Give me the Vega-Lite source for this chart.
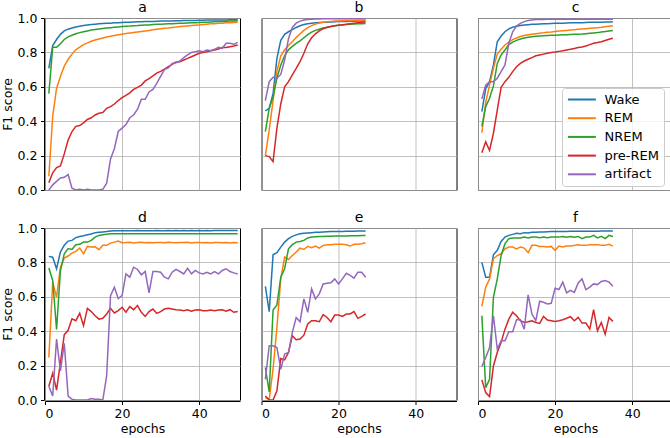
{
"$schema": "https://vega.github.io/schema/vega-lite/v6.json",
"padding": {"left": 1, "top": 0, "right": 0, "bottom": 0},
"datasets": {"rows": [
{"p":"a","e":1,"Wake":0.707,"REM":0.08,"NREM":0.56,"pre-REM":0.043,"artifact":0},
{"p":"a","e":2,"Wake":0.84,"REM":0.43,"NREM":0.83,"pre-REM":0.10,"artifact":0.03},
{"p":"a","e":3,"Wake":0.875,"REM":0.59,"NREM":0.83,"pre-REM":0.13,"artifact":0.05},
{"p":"a","e":4,"Wake":0.905,"REM":0.66,"NREM":0.85,"pre-REM":0.14,"artifact":0.07},
{"p":"a","e":5,"Wake":0.925,"REM":0.72,"NREM":0.875,"pre-REM":0.21,"artifact":0.074},
{"p":"a","e":6,"Wake":0.935,"REM":0.76,"NREM":0.89,"pre-REM":0.29,"artifact":0.09},
{"p":"a","e":7,"Wake":0.942,"REM":0.79,"NREM":0.90,"pre-REM":0.34,"artifact":0.01},
{"p":"a","e":8,"Wake":0.948,"REM":0.815,"NREM":0.908,"pre-REM":0.37,"artifact":0},
{"p":"a","e":9,"Wake":0.952,"REM":0.83,"NREM":0.915,"pre-REM":0.375,"artifact":0.004},
{"p":"a","e":10,"Wake":0.956,"REM":0.845,"NREM":0.92,"pre-REM":0.39,"artifact":0},
{"p":"a","e":11,"Wake":0.959,"REM":0.855,"NREM":0.925,"pre-REM":0.41,"artifact":0.004},
{"p":"a","e":12,"Wake":0.962,"REM":0.865,"NREM":0.93,"pre-REM":0.42,"artifact":0},
{"p":"a","e":13,"Wake":0.964,"REM":0.872,"NREM":0.933,"pre-REM":0.436,"artifact":0},
{"p":"a","e":14,"Wake":0.966,"REM":0.878,"NREM":0.936,"pre-REM":0.446,"artifact":0},
{"p":"a","e":15,"Wake":0.968,"REM":0.884,"NREM":0.939,"pre-REM":0.45,"artifact":0.004},
{"p":"a","e":16,"Wake":0.969,"REM":0.889,"NREM":0.942,"pre-REM":0.475,"artifact":0.04},
{"p":"a","e":17,"Wake":0.970,"REM":0.894,"NREM":0.944,"pre-REM":0.485,"artifact":0.18},
{"p":"a","e":18,"Wake":0.972,"REM":0.898,"NREM":0.946,"pre-REM":0.50,"artifact":0.24},
{"p":"a","e":19,"Wake":0.973,"REM":0.902,"NREM":0.948,"pre-REM":0.52,"artifact":0.34},
{"p":"a","e":20,"Wake":0.974,"REM":0.906,"NREM":0.950,"pre-REM":0.537,"artifact":0.36},
{"p":"a","e":21,"Wake":0.975,"REM":0.91,"NREM":0.952,"pre-REM":0.55,"artifact":0.38},
{"p":"a","e":22,"Wake":0.976,"REM":0.913,"NREM":0.953,"pre-REM":0.565,"artifact":0.42},
{"p":"a","e":23,"Wake":0.977,"REM":0.916,"NREM":0.955,"pre-REM":0.585,"artifact":0.436},
{"p":"a","e":24,"Wake":0.978,"REM":0.919,"NREM":0.956,"pre-REM":0.597,"artifact":0.47},
{"p":"a","e":25,"Wake":0.978,"REM":0.922,"NREM":0.958,"pre-REM":0.61,"artifact":0.527},
{"p":"a","e":26,"Wake":0.979,"REM":0.925,"NREM":0.959,"pre-REM":0.634,"artifact":0.527},
{"p":"a","e":27,"Wake":0.980,"REM":0.928,"NREM":0.960,"pre-REM":0.647,"artifact":0.57},
{"p":"a","e":28,"Wake":0.980,"REM":0.931,"NREM":0.962,"pre-REM":0.663,"artifact":0.585},
{"p":"a","e":29,"Wake":0.981,"REM":0.934,"NREM":0.963,"pre-REM":0.68,"artifact":0.62},
{"p":"a","e":30,"Wake":0.982,"REM":0.937,"NREM":0.964,"pre-REM":0.69,"artifact":0.66},
{"p":"a","e":31,"Wake":0.982,"REM":0.940,"NREM":0.965,"pre-REM":0.703,"artifact":0.70},
{"p":"a","e":32,"Wake":0.983,"REM":0.942,"NREM":0.966,"pre-REM":0.717,"artifact":0.71},
{"p":"a","e":33,"Wake":0.983,"REM":0.945,"NREM":0.967,"pre-REM":0.73,"artifact":0.736},
{"p":"a","e":34,"Wake":0.984,"REM":0.947,"NREM":0.968,"pre-REM":0.744,"artifact":0.74},
{"p":"a","e":35,"Wake":0.984,"REM":0.950,"NREM":0.969,"pre-REM":0.746,"artifact":0.75},
{"p":"a","e":36,"Wake":0.985,"REM":0.952,"NREM":0.970,"pre-REM":0.756,"artifact":0.77},
{"p":"a","e":37,"Wake":0.985,"REM":0.954,"NREM":0.971,"pre-REM":0.765,"artifact":0.785},
{"p":"a","e":38,"Wake":0.986,"REM":0.956,"NREM":0.972,"pre-REM":0.775,"artifact":0.80},
{"p":"a","e":39,"Wake":0.986,"REM":0.958,"NREM":0.973,"pre-REM":0.785,"artifact":0.804},
{"p":"a","e":40,"Wake":0.987,"REM":0.960,"NREM":0.974,"pre-REM":0.795,"artifact":0.81},
{"p":"a","e":41,"Wake":0.987,"REM":0.962,"NREM":0.975,"pre-REM":0.80,"artifact":0.804},
{"p":"a","e":42,"Wake":0.988,"REM":0.964,"NREM":0.976,"pre-REM":0.804,"artifact":0.814},
{"p":"a","e":43,"Wake":0.988,"REM":0.966,"NREM":0.977,"pre-REM":0.81,"artifact":0.81},
{"p":"a","e":44,"Wake":0.988,"REM":0.967,"NREM":0.978,"pre-REM":0.814,"artifact":0.818},
{"p":"a","e":45,"Wake":0.989,"REM":0.969,"NREM":0.979,"pre-REM":0.82,"artifact":0.83},
{"p":"a","e":46,"Wake":0.989,"REM":0.970,"NREM":0.980,"pre-REM":0.828,"artifact":0.824},
{"p":"a","e":47,"Wake":0.989,"REM":0.972,"NREM":0.981,"pre-REM":0.828,"artifact":0.853},
{"p":"a","e":48,"Wake":0.990,"REM":0.973,"NREM":0.982,"pre-REM":0.833,"artifact":0.853},
{"p":"a","e":49,"Wake":0.990,"REM":0.974,"NREM":0.983,"pre-REM":0.837,"artifact":0.847},
{"p":"a","e":50,"Wake":0.990,"REM":0.975,"NREM":0.984,"pre-REM":0.843,"artifact":0.858},
{"p":"b","e":1,"Wake":0.46,"REM":0.20,"NREM":0.34,"pre-REM":0.20,"artifact":0.52},
{"p":"b","e":2,"Wake":0.475,"REM":0.35,"NREM":0.475,"pre-REM":0.194,"artifact":0.63},
{"p":"b","e":3,"Wake":0.56,"REM":0.52,"NREM":0.54,"pre-REM":0.165,"artifact":0.655},
{"p":"b","e":4,"Wake":0.765,"REM":0.69,"NREM":0.65,"pre-REM":0.36,"artifact":0.65},
{"p":"b","e":5,"Wake":0.87,"REM":0.78,"NREM":0.727,"pre-REM":0.50,"artifact":0.672},
{"p":"b","e":6,"Wake":0.905,"REM":0.815,"NREM":0.78,"pre-REM":0.60,"artifact":0.756},
{"p":"b","e":7,"Wake":0.92,"REM":0.84,"NREM":0.815,"pre-REM":0.63,"artifact":0.88},
{"p":"b","e":8,"Wake":0.932,"REM":0.862,"NREM":0.835,"pre-REM":0.67,"artifact":0.945},
{"p":"b","e":9,"Wake":0.945,"REM":0.886,"NREM":0.852,"pre-REM":0.707,"artifact":0.97},
{"p":"b","e":10,"Wake":0.955,"REM":0.908,"NREM":0.867,"pre-REM":0.746,"artifact":0.982},
{"p":"b","e":11,"Wake":0.962,"REM":0.928,"NREM":0.885,"pre-REM":0.795,"artifact":0.988},
{"p":"b","e":12,"Wake":0.967,"REM":0.944,"NREM":0.903,"pre-REM":0.85,"artifact":0.991},
{"p":"b","e":13,"Wake":0.970,"REM":0.956,"NREM":0.918,"pre-REM":0.885,"artifact":0.993},
{"p":"b","e":14,"Wake":0.972,"REM":0.965,"NREM":0.928,"pre-REM":0.908,"artifact":0.994},
{"p":"b","e":15,"Wake":0.974,"REM":0.971,"NREM":0.935,"pre-REM":0.925,"artifact":0.994},
{"p":"b","e":16,"Wake":0.975,"REM":0.975,"NREM":0.942,"pre-REM":0.938,"artifact":0.995},
{"p":"b","e":17,"Wake":0.976,"REM":0.978,"NREM":0.947,"pre-REM":0.945,"artifact":0.995},
{"p":"b","e":18,"Wake":0.977,"REM":0.980,"NREM":0.951,"pre-REM":0.951,"artifact":0.995},
{"p":"b","e":19,"Wake":0.978,"REM":0.982,"NREM":0.955,"pre-REM":0.955,"artifact":0.995},
{"p":"b","e":20,"Wake":0.979,"REM":0.983,"NREM":0.958,"pre-REM":0.958,"artifact":0.995},
{"p":"b","e":21,"Wake":0.980,"REM":0.984,"NREM":0.960,"pre-REM":0.961,"artifact":0.995},
{"p":"b","e":22,"Wake":0.980,"REM":0.985,"NREM":0.962,"pre-REM":0.963,"artifact":0.995},
{"p":"b","e":23,"Wake":0.981,"REM":0.986,"NREM":0.964,"pre-REM":0.966,"artifact":0.995},
{"p":"b","e":24,"Wake":0.981,"REM":0.986,"NREM":0.965,"pre-REM":0.969,"artifact":0.995},
{"p":"b","e":25,"Wake":0.982,"REM":0.987,"NREM":0.966,"pre-REM":0.972,"artifact":0.995},
{"p":"b","e":26,"Wake":0.982,"REM":0.987,"NREM":0.967,"pre-REM":0.975,"artifact":0.995},
{"p":"b","e":27,"Wake":0.983,"REM":0.988,"NREM":0.968,"pre-REM":0.977,"artifact":0.995},
{"p":"c","e":1,"Wake":0.455,"REM":0.333,"NREM":0.37,"pre-REM":0.217,"artifact":0.53},
{"p":"c","e":2,"Wake":0.59,"REM":0.51,"NREM":0.485,"pre-REM":0.28,"artifact":0.61},
{"p":"c","e":3,"Wake":0.63,"REM":0.61,"NREM":0.533,"pre-REM":0.23,"artifact":0.63},
{"p":"c","e":4,"Wake":0.727,"REM":0.707,"NREM":0.605,"pre-REM":0.33,"artifact":0.63},
{"p":"c","e":5,"Wake":0.862,"REM":0.79,"NREM":0.736,"pre-REM":0.465,"artifact":0.65},
{"p":"c","e":6,"Wake":0.895,"REM":0.818,"NREM":0.785,"pre-REM":0.597,"artifact":0.688},
{"p":"c","e":7,"Wake":0.92,"REM":0.843,"NREM":0.814,"pre-REM":0.63,"artifact":0.727},
{"p":"c","e":8,"Wake":0.937,"REM":0.86,"NREM":0.845,"pre-REM":0.655,"artifact":0.853},
{"p":"c","e":9,"Wake":0.946,"REM":0.874,"NREM":0.86,"pre-REM":0.688,"artifact":0.92},
{"p":"c","e":10,"Wake":0.952,"REM":0.884,"NREM":0.87,"pre-REM":0.717,"artifact":0.953},
{"p":"c","e":11,"Wake":0.956,"REM":0.892,"NREM":0.878,"pre-REM":0.736,"artifact":0.969},
{"p":"c","e":12,"Wake":0.959,"REM":0.898,"NREM":0.884,"pre-REM":0.75,"artifact":0.979},
{"p":"c","e":13,"Wake":0.961,"REM":0.902,"NREM":0.888,"pre-REM":0.76,"artifact":0.985},
{"p":"c","e":14,"Wake":0.963,"REM":0.906,"NREM":0.891,"pre-REM":0.77,"artifact":0.989},
{"p":"c","e":15,"Wake":0.964,"REM":0.909,"NREM":0.894,"pre-REM":0.78,"artifact":0.991},
{"p":"c","e":16,"Wake":0.965,"REM":0.912,"NREM":0.896,"pre-REM":0.785,"artifact":0.992},
{"p":"c","e":17,"Wake":0.966,"REM":0.914,"NREM":0.897,"pre-REM":0.79,"artifact":0.992},
{"p":"c","e":18,"Wake":0.967,"REM":0.917,"NREM":0.898,"pre-REM":0.795,"artifact":0.993},
{"p":"c","e":19,"Wake":0.968,"REM":0.919,"NREM":0.899,"pre-REM":0.80,"artifact":0.993},
{"p":"c","e":20,"Wake":0.969,"REM":0.922,"NREM":0.90,"pre-REM":0.802,"artifact":0.993},
{"p":"c","e":21,"Wake":0.970,"REM":0.924,"NREM":0.901,"pre-REM":0.806,"artifact":0.993},
{"p":"c","e":22,"Wake":0.970,"REM":0.926,"NREM":0.902,"pre-REM":0.81,"artifact":0.993},
{"p":"c","e":23,"Wake":0.971,"REM":0.928,"NREM":0.903,"pre-REM":0.814,"artifact":0.993},
{"p":"c","e":24,"Wake":0.972,"REM":0.930,"NREM":0.904,"pre-REM":0.818,"artifact":0.993},
{"p":"c","e":25,"Wake":0.972,"REM":0.932,"NREM":0.905,"pre-REM":0.823,"artifact":0.993},
{"p":"c","e":26,"Wake":0.973,"REM":0.934,"NREM":0.906,"pre-REM":0.828,"artifact":0.993},
{"p":"c","e":27,"Wake":0.973,"REM":0.936,"NREM":0.907,"pre-REM":0.832,"artifact":0.993},
{"p":"c","e":28,"Wake":0.974,"REM":0.938,"NREM":0.909,"pre-REM":0.837,"artifact":0.993},
{"p":"c","e":29,"Wake":0.975,"REM":0.940,"NREM":0.911,"pre-REM":0.845,"artifact":0.993},
{"p":"c","e":30,"Wake":0.975,"REM":0.942,"NREM":0.913,"pre-REM":0.853,"artifact":0.993},
{"p":"c","e":31,"Wake":0.976,"REM":0.944,"NREM":0.915,"pre-REM":0.857,"artifact":0.993},
{"p":"c","e":32,"Wake":0.976,"REM":0.946,"NREM":0.918,"pre-REM":0.862,"artifact":0.993},
{"p":"c","e":33,"Wake":0.977,"REM":0.949,"NREM":0.921,"pre-REM":0.869,"artifact":0.993},
{"p":"c","e":34,"Wake":0.977,"REM":0.952,"NREM":0.925,"pre-REM":0.876,"artifact":0.993},
{"p":"c","e":35,"Wake":0.978,"REM":0.955,"NREM":0.928,"pre-REM":0.882,"artifact":0.993},
{"p":"d","e":1,"Wake":0.835,"REM":0.247,"NREM":0.767,"pre-REM":0.08,"artifact":0.08},
{"p":"d","e":2,"Wake":0.83,"REM":0.685,"NREM":0.695,"pre-REM":0.156,"artifact":0.023},
{"p":"d","e":3,"Wake":0.763,"REM":0.597,"NREM":0.41,"pre-REM":0.058,"artifact":0.354},
{"p":"d","e":4,"Wake":0.86,"REM":0.772,"NREM":0.75,"pre-REM":0.218,"artifact":0.169},
{"p":"d","e":5,"Wake":0.90,"REM":0.825,"NREM":0.85,"pre-REM":0.38,"artifact":0.33},
{"p":"d","e":6,"Wake":0.924,"REM":0.837,"NREM":0.88,"pre-REM":0.405,"artifact":0.023},
{"p":"d","e":7,"Wake":0.928,"REM":0.854,"NREM":0.875,"pre-REM":0.472,"artifact":0.004},
{"p":"d","e":8,"Wake":0.944,"REM":0.864,"NREM":0.903,"pre-REM":0.461,"artifact":0},
{"p":"d","e":9,"Wake":0.951,"REM":0.883,"NREM":0.905,"pre-REM":0.504,"artifact":0},
{"p":"d","e":10,"Wake":0.955,"REM":0.85,"NREM":0.918,"pre-REM":0.432,"artifact":0},
{"p":"d","e":11,"Wake":0.961,"REM":0.893,"NREM":0.918,"pre-REM":0.533,"artifact":0},
{"p":"d","e":12,"Wake":0.965,"REM":0.889,"NREM":0.928,"pre-REM":0.514,"artifact":0.008},
{"p":"d","e":13,"Wake":0.973,"REM":0.891,"NREM":0.947,"pre-REM":0.49,"artifact":0.004},
{"p":"d","e":14,"Wake":0.975,"REM":0.874,"NREM":0.957,"pre-REM":0.47,"artifact":0.004},
{"p":"d","e":15,"Wake":0.977,"REM":0.899,"NREM":0.961,"pre-REM":0.475,"artifact":0},
{"p":"d","e":16,"Wake":0.979,"REM":0.899,"NREM":0.964,"pre-REM":0.50,"artifact":0.14},
{"p":"d","e":17,"Wake":0.982,"REM":0.912,"NREM":0.967,"pre-REM":0.533,"artifact":0.607},
{"p":"d","e":18,"Wake":0.984,"REM":0.918,"NREM":0.967,"pre-REM":0.506,"artifact":0.656},
{"p":"d","e":19,"Wake":0.984,"REM":0.924,"NREM":0.967,"pre-REM":0.52,"artifact":0.59},
{"p":"d","e":20,"Wake":0.984,"REM":0.914,"NREM":0.967,"pre-REM":0.539,"artifact":0.607},
{"p":"d","e":21,"Wake":0.984,"REM":0.915,"NREM":0.967,"pre-REM":0.51,"artifact":0.733},
{"p":"d","e":22,"Wake":0.984,"REM":0.917,"NREM":0.967,"pre-REM":0.543,"artifact":0.714},
{"p":"d","e":23,"Wake":0.984,"REM":0.913,"NREM":0.967,"pre-REM":0.525,"artifact":0.772},
{"p":"d","e":24,"Wake":0.985,"REM":0.915,"NREM":0.967,"pre-REM":0.549,"artifact":0.759},
{"p":"d","e":25,"Wake":0.984,"REM":0.917,"NREM":0.967,"pre-REM":0.51,"artifact":0.728},
{"p":"d","e":26,"Wake":0.984,"REM":0.914,"NREM":0.967,"pre-REM":0.486,"artifact":0.747},
{"p":"d","e":27,"Wake":0.984,"REM":0.916,"NREM":0.967,"pre-REM":0.514,"artifact":0.623},
{"p":"d","e":28,"Wake":0.984,"REM":0.914,"NREM":0.967,"pre-REM":0.529,"artifact":0.747},
{"p":"d","e":29,"Wake":0.985,"REM":0.915,"NREM":0.967,"pre-REM":0.504,"artifact":0.747},
{"p":"d","e":30,"Wake":0.984,"REM":0.916,"NREM":0.967,"pre-REM":0.514,"artifact":0.743},
{"p":"d","e":31,"Wake":0.984,"REM":0.914,"NREM":0.967,"pre-REM":0.529,"artifact":0.714},
{"p":"d","e":32,"Wake":0.985,"REM":0.917,"NREM":0.967,"pre-REM":0.533,"artifact":0.704},
{"p":"d","e":33,"Wake":0.984,"REM":0.915,"NREM":0.967,"pre-REM":0.529,"artifact":0.743},
{"p":"d","e":34,"Wake":0.985,"REM":0.914,"NREM":0.967,"pre-REM":0.525,"artifact":0.759},
{"p":"d","e":35,"Wake":0.984,"REM":0.916,"NREM":0.967,"pre-REM":0.523,"artifact":0.747},
{"p":"d","e":36,"Wake":0.985,"REM":0.915,"NREM":0.967,"pre-REM":0.519,"artifact":0.733},
{"p":"d","e":37,"Wake":0.984,"REM":0.917,"NREM":0.967,"pre-REM":0.525,"artifact":0.766},
{"p":"d","e":38,"Wake":0.985,"REM":0.913,"NREM":0.967,"pre-REM":0.516,"artifact":0.733},
{"p":"d","e":39,"Wake":0.984,"REM":0.915,"NREM":0.967,"pre-REM":0.523,"artifact":0.753},
{"p":"d","e":40,"Wake":0.985,"REM":0.916,"NREM":0.967,"pre-REM":0.525,"artifact":0.739},
{"p":"d","e":41,"Wake":0.984,"REM":0.914,"NREM":0.967,"pre-REM":0.519,"artifact":0.733},
{"p":"d","e":42,"Wake":0.985,"REM":0.915,"NREM":0.967,"pre-REM":0.519,"artifact":0.743},
{"p":"d","e":43,"Wake":0.984,"REM":0.913,"NREM":0.967,"pre-REM":0.523,"artifact":0.733},
{"p":"d","e":44,"Wake":0.985,"REM":0.915,"NREM":0.967,"pre-REM":0.519,"artifact":0.747},
{"p":"d","e":45,"Wake":0.985,"REM":0.916,"NREM":0.967,"pre-REM":0.523,"artifact":0.733},
{"p":"d","e":46,"Wake":0.985,"REM":0.914,"NREM":0.967,"pre-REM":0.525,"artifact":0.753},
{"p":"d","e":47,"Wake":0.985,"REM":0.915,"NREM":0.967,"pre-REM":0.516,"artifact":0.763},
{"p":"d","e":48,"Wake":0.985,"REM":0.913,"NREM":0.967,"pre-REM":0.525,"artifact":0.747},
{"p":"d","e":49,"Wake":0.985,"REM":0.915,"NREM":0.967,"pre-REM":0.51,"artifact":0.739},
{"p":"d","e":50,"Wake":0.985,"REM":0.914,"NREM":0.967,"pre-REM":0.514,"artifact":0.733},
{"p":"e","e":1,"Wake":0.66,"REM":0.014,"NREM":0.189,"pre-REM":0.023,"artifact":0.12},
{"p":"e","e":2,"Wake":0.514,"REM":0.004,"NREM":0.047,"pre-REM":0,"artifact":0.315},
{"p":"e","e":3,"Wake":0.844,"REM":0.179,"NREM":0.523,"pre-REM":0,"artifact":0.315},
{"p":"e","e":4,"Wake":0.856,"REM":0.422,"NREM":0.553,"pre-REM":0.053,"artifact":0.305},
{"p":"e","e":5,"Wake":0.889,"REM":0.704,"NREM":0.714,"pre-REM":0.241,"artifact":0.179},
{"p":"e","e":6,"Wake":0.918,"REM":0.831,"NREM":0.763,"pre-REM":0.233,"artifact":0.267},
{"p":"e","e":7,"Wake":0.938,"REM":0.817,"NREM":0.879,"pre-REM":0.276,"artifact":0.276},
{"p":"e","e":8,"Wake":0.951,"REM":0.84,"NREM":0.903,"pre-REM":0.374,"artifact":0.393},
{"p":"e","e":9,"Wake":0.96,"REM":0.86,"NREM":0.918,"pre-REM":0.35,"artifact":0.48},
{"p":"e","e":10,"Wake":0.966,"REM":0.883,"NREM":0.922,"pre-REM":0.354,"artifact":0.455},
{"p":"e","e":11,"Wake":0.969,"REM":0.875,"NREM":0.928,"pre-REM":0.377,"artifact":0.588},
{"p":"e","e":12,"Wake":0.971,"REM":0.893,"NREM":0.942,"pre-REM":0.442,"artifact":0.51},
{"p":"e","e":13,"Wake":0.973,"REM":0.885,"NREM":0.947,"pre-REM":0.461,"artifact":0.646},
{"p":"e","e":14,"Wake":0.975,"REM":0.895,"NREM":0.949,"pre-REM":0.461,"artifact":0.588},
{"p":"e","e":15,"Wake":0.976,"REM":0.883,"NREM":0.951,"pre-REM":0.455,"artifact":0.617},
{"p":"e","e":16,"Wake":0.977,"REM":0.899,"NREM":0.951,"pre-REM":0.496,"artifact":0.675},
{"p":"e","e":17,"Wake":0.978,"REM":0.903,"NREM":0.952,"pre-REM":0.48,"artifact":0.679},
{"p":"e","e":18,"Wake":0.979,"REM":0.903,"NREM":0.952,"pre-REM":0.455,"artifact":0.681},
{"p":"e","e":19,"Wake":0.979,"REM":0.905,"NREM":0.953,"pre-REM":0.494,"artifact":0.704},
{"p":"e","e":20,"Wake":0.980,"REM":0.905,"NREM":0.953,"pre-REM":0.494,"artifact":0.675},
{"p":"e","e":21,"Wake":0.980,"REM":0.905,"NREM":0.954,"pre-REM":0.486,"artifact":0.704},
{"p":"e","e":22,"Wake":0.981,"REM":0.903,"NREM":0.954,"pre-REM":0.50,"artifact":0.737},
{"p":"e","e":23,"Wake":0.981,"REM":0.895,"NREM":0.955,"pre-REM":0.50,"artifact":0.724},
{"p":"e","e":24,"Wake":0.981,"REM":0.905,"NREM":0.955,"pre-REM":0.514,"artifact":0.708},
{"p":"e","e":25,"Wake":0.982,"REM":0.905,"NREM":0.955,"pre-REM":0.475,"artifact":0.743},
{"p":"e","e":26,"Wake":0.982,"REM":0.909,"NREM":0.956,"pre-REM":0.486,"artifact":0.743},
{"p":"e","e":27,"Wake":0.982,"REM":0.914,"NREM":0.957,"pre-REM":0.50,"artifact":0.714},
{"p":"f","e":1,"Wake":0.80,"REM":0.545,"NREM":0.49,"pre-REM":0.117,"artifact":0.195},
{"p":"f","e":2,"Wake":0.714,"REM":0.656,"NREM":0.072,"pre-REM":0.043,"artifact":0.247},
{"p":"f","e":3,"Wake":0.714,"REM":0.704,"NREM":0.12,"pre-REM":0.02,"artifact":0.305},
{"p":"f","e":4,"Wake":0.844,"REM":0.821,"NREM":0.597,"pre-REM":0.198,"artifact":0.49},
{"p":"f","e":5,"Wake":0.87,"REM":0.84,"NREM":0.704,"pre-REM":0.276,"artifact":0.296},
{"p":"f","e":6,"Wake":0.922,"REM":0.85,"NREM":0.84,"pre-REM":0.335,"artifact":0.344},
{"p":"f","e":7,"Wake":0.947,"REM":0.879,"NREM":0.909,"pre-REM":0.412,"artifact":0.344},
{"p":"f","e":8,"Wake":0.957,"REM":0.889,"NREM":0.938,"pre-REM":0.47,"artifact":0.397},
{"p":"f","e":9,"Wake":0.963,"REM":0.889,"NREM":0.942,"pre-REM":0.51,"artifact":0.397},
{"p":"f","e":10,"Wake":0.969,"REM":0.879,"NREM":0.942,"pre-REM":0.49,"artifact":0.467},
{"p":"f","e":11,"Wake":0.967,"REM":0.889,"NREM":0.942,"pre-REM":0.461,"artifact":0.467},
{"p":"f","e":12,"Wake":0.973,"REM":0.883,"NREM":0.947,"pre-REM":0.451,"artifact":0.412},
{"p":"f","e":13,"Wake":0.971,"REM":0.856,"NREM":0.942,"pre-REM":0.455,"artifact":0.611},
{"p":"f","e":14,"Wake":0.975,"REM":0.899,"NREM":0.947,"pre-REM":0.461,"artifact":0.50},
{"p":"f","e":15,"Wake":0.975,"REM":0.899,"NREM":0.947,"pre-REM":0.451,"artifact":0.461},
{"p":"f","e":16,"Wake":0.977,"REM":0.893,"NREM":0.944,"pre-REM":0.445,"artifact":0.574},
{"p":"f","e":17,"Wake":0.977,"REM":0.893,"NREM":0.947,"pre-REM":0.486,"artifact":0.568},
{"p":"f","e":18,"Wake":0.978,"REM":0.889,"NREM":0.944,"pre-REM":0.465,"artifact":0.558},
{"p":"f","e":19,"Wake":0.979,"REM":0.893,"NREM":0.947,"pre-REM":0.461,"artifact":0.562},
{"p":"f","e":20,"Wake":0.98,"REM":0.870,"NREM":0.947,"pre-REM":0.457,"artifact":0.65},
{"p":"f","e":21,"Wake":0.98,"REM":0.895,"NREM":0.947,"pre-REM":0.461,"artifact":0.642},
{"p":"f","e":22,"Wake":0.98,"REM":0.889,"NREM":0.951,"pre-REM":0.467,"artifact":0.685},
{"p":"f","e":23,"Wake":0.98,"REM":0.895,"NREM":0.947,"pre-REM":0.475,"artifact":0.623},
{"p":"f","e":24,"Wake":0.981,"REM":0.895,"NREM":0.951,"pre-REM":0.484,"artifact":0.638},
{"p":"f","e":25,"Wake":0.981,"REM":0.899,"NREM":0.947,"pre-REM":0.461,"artifact":0.626},
{"p":"f","e":26,"Wake":0.981,"REM":0.903,"NREM":0.951,"pre-REM":0.48,"artifact":0.681},
{"p":"f","e":27,"Wake":0.981,"REM":0.899,"NREM":0.938,"pre-REM":0.447,"artifact":0.704},
{"p":"f","e":28,"Wake":0.981,"REM":0.899,"NREM":0.947,"pre-REM":0.447,"artifact":0.642},
{"p":"f","e":29,"Wake":0.981,"REM":0.903,"NREM":0.947,"pre-REM":0.412,"artifact":0.656},
{"p":"f","e":30,"Wake":0.981,"REM":0.903,"NREM":0.957,"pre-REM":0.525,"artifact":0.675},
{"p":"f","e":31,"Wake":0.981,"REM":0.903,"NREM":0.942,"pre-REM":0.403,"artifact":0.671},
{"p":"f","e":32,"Wake":0.982,"REM":0.899,"NREM":0.951,"pre-REM":0.451,"artifact":0.689},
{"p":"f","e":33,"Wake":0.982,"REM":0.899,"NREM":0.938,"pre-REM":0.383,"artifact":0.695},
{"p":"f","e":34,"Wake":0.982,"REM":0.905,"NREM":0.957,"pre-REM":0.48,"artifact":0.685},
{"p":"f","e":35,"Wake":0.982,"REM":0.895,"NREM":0.951,"pre-REM":0.457,"artifact":0.661}
]},
"data": {"name": "rows"},
"transform": [{"fold": ["Wake", "REM", "NREM", "pre-REM", "artifact"], "as": ["series", "f1"]}],
"facet": {"field": "p", "type": "nominal", "title": null,
  "header": {"labelFontSize": 14, "labelFont": "DejaVu Sans", "labelColor": "black", "labelPadding": 3}},
"columns": 3,
"spacing": {"row": 19, "column": 19.5},
"spec": {
  "width": 195,
  "height": 172,
  "mark": {"type": "line", "strokeWidth": 1.5, "clip": true},
  "encoding": {
    "x": {"field": "e", "type": "quantitative", "scale": {"domain": [0, 50.6], "nice": false, "zero": false},
      "axis": {"values": [0, 20, 40], "title": "epochs", "format": "d"}},
    "y": {"field": "f1", "type": "quantitative", "scale": {"domain": [0, 1], "nice": false},
      "axis": {"values": [0, 0.2, 0.4, 0.6, 0.8, 1.0], "format": ".1f", "title": "F1 score"}},
    "color": {"field": "series", "type": "nominal",
      "scale": {"domain": ["Wake", "REM", "NREM", "pre-REM", "artifact"],
                "range": ["#1f77b4", "#ff7f0e", "#2ca02c", "#d62728", "#9467bd"]},
      "legend": {"orient": "none", "legendX": 517, "legendY": 70, "title": null,
        "symbolType": "M-1,0H4", "symbolSize": 125, "symbolStrokeWidth": 2,
        "labelFontSize": 13, "labelOffset": 24, "labelColor": "black", "labelFont": "DejaVu Sans",
        "strokeColor": "#cccccc", "fillColor": "rgba(255,255,255,0.8)", "padding": 4.5, "cornerRadius": 3, "rowPadding": 4.7}}
  }
},
"config": {
  "font": "DejaVu Sans",
  "view": {"stroke": "black", "strokeWidth": 1},
  "axis": {"gridColor": "#b0b0b0", "gridWidth": 0.8, "gridOpacity": 1, "domainColor": "black", "tickColor": "black", "tickSize": 3.5,
    "labelColor": "black", "labelFontSize": 12.5, "labelFont": "DejaVu Sans", "titleFont": "DejaVu Sans", "titleFontSize": 12.5, "titleFontWeight": "normal", "titleColor": "black"},
  "axisX": {"titlePadding": 2, "labelPadding": 3},
  "axisY": {"titlePadding": 3, "labelPadding": 3.5}
}
}
